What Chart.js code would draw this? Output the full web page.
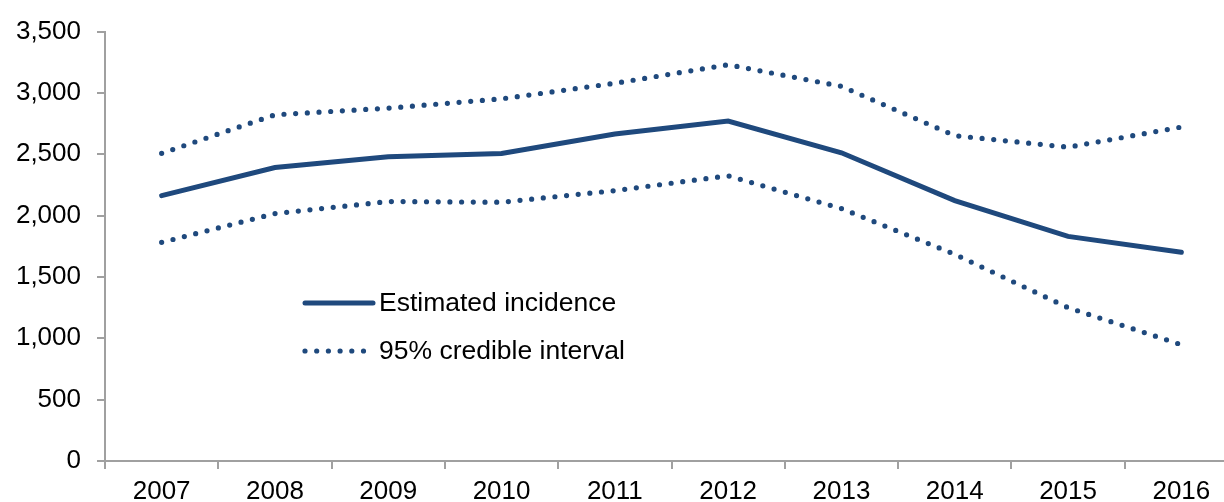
<!DOCTYPE html>
<html>
<head>
<meta charset="utf-8">
<script src="https://cdn.jsdelivr.net/npm/chart.js@4/dist/chart.umd.min.js"></script>
<style>
  html, body { margin: 0; padding: 0; background: #fff; overflow: hidden; }
  #wrap { position: relative; width: 1240px; height: 507px; }
</style>
</head>
<body>
<div id="wrap"><canvas id="c"></canvas></div>
<script>
// Estimated incidence with 95% credible interval
const years = ["2007", "2008", "2009", "2010", "2011", "2012", "2013", "2014", "2015", "2016"];
const estimate = [2163, 2392, 2479, 2506, 2666, 2771, 2512, 2123, 1831, 1701];
const upperCI = [2508, 2822, 2876, 2952, 3079, 3230, 3054, 2652, 2558, 2722];
const lowerCI = [1782, 2017, 2115, 2109, 2204, 2325, 2058, 1685, 1250, 948];
const yTicks = [0, 500, 1000, 1500, 2000, 2500, 3000, 3500];

const NAVY = "#1f497d";
const AXIS = "#a0a0a0";
const FONT = "'Liberation Sans', Arial, sans-serif";
const DOTS = [0, 11.7];

// legend sits inside the plot, lower left
const insideLegend = {
  id: "insideLegend",
  afterDraw(chart) {
    const ctx = chart.ctx;
    const a = chart.chartArea;
    const rows = [
      { text: "Estimated incidence", ds: chart.data.datasets[0] },
      { text: "95% credible interval", ds: chart.data.datasets[1] }
    ];
    const x0 = a.left + 198, y0 = 303;
    ctx.save();
    ctx.font = "26.5px " + FONT;
    ctx.textBaseline = "middle";
    rows.forEach((r, i) => {
      const y = y0 + i * 48;
      ctx.beginPath();
      ctx.strokeStyle = r.ds.borderColor;
      ctx.lineWidth = r.ds.borderWidth;
      ctx.lineCap = "round";
      ctx.setLineDash(r.ds.borderDash || []);
      ctx.moveTo(x0 + 2, y);
      ctx.lineTo(x0 + (r.ds.borderDash ? 64 : 70), y);
      ctx.stroke();
      ctx.setLineDash([]);
      ctx.fillStyle = "#000";
      ctx.fillText(r.text, x0 + 76, y + 1);
    });
    ctx.restore();
  }
};

new Chart(document.getElementById("c").getContext("2d"), {
  type: "line",
  data: {
    labels: years,
    datasets: [
      { label: "Estimated incidence", data: estimate, borderColor: NAVY, borderWidth: 5, borderCapStyle: "round", pointRadius: 0, tension: 0 },
      { label: "95% credible interval", data: upperCI, borderColor: NAVY, borderWidth: 5.2, borderDash: DOTS, borderCapStyle: "round", pointRadius: 0, tension: 0 },
      { label: "95% credible interval (lower)", data: lowerCI, borderColor: NAVY, borderWidth: 5.2, borderDash: DOTS, borderCapStyle: "round", pointRadius: 0, tension: 0 }
    ]
  },
  options: {
    responsive: true, maintainAspectRatio: false, animation: false,
    layout: { padding: { top: 23, right: 2, left: 0, bottom: 0 } },
    plugins: { legend: { display: false }, tooltip: { enabled: false } },
    scales: {
      x: {
        offset: true,
        grid: { offset: true, drawOnChartArea: false, drawTicks: true, tickLength: 8, color: AXIS, lineWidth: 2 },
        border: { color: AXIS, width: 2 },
        ticks: { color: "#000", font: { family: FONT, size: 26 }, padding: 7, maxRotation: 0, autoSkip: false },
        afterFit: s => { s.height = 46; }
      },
      y: {
        min: 0, max: 3500,
        afterBuildTicks: s => { s.ticks = yTicks.map(v => ({ value: v })); },
        grid: { drawOnChartArea: false, drawTicks: true, tickLength: 8, color: AXIS, lineWidth: 2 },
        border: { color: AXIS, width: 2 },
        ticks: { color: "#000", font: { family: FONT, size: 26 }, padding: 16, callback: v => v.toLocaleString("en-US") },
        afterFit: s => { s.width = 105; }
      }
    }
  },
  plugins: [insideLegend]
});
</script>
</body>
</html>
